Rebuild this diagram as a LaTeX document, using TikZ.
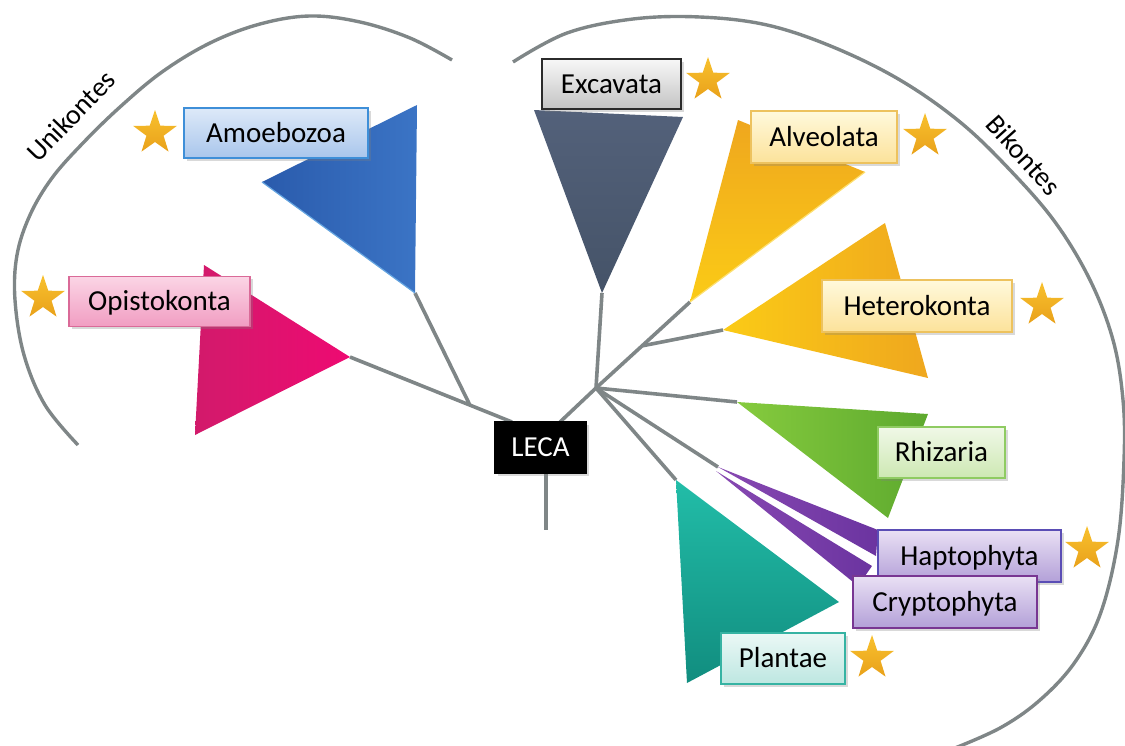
\documentclass[tikz,border=0pt]{standalone}
\usepackage{fontspec}
\setmainfont{Carlito}
\usetikzlibrary{shapes.geometric,shadows,calc}

\definecolor{lgray}{HTML}{7F8687}
\definecolor{starTop}{HTML}{F8C12E}
\definecolor{starBot}{HTML}{E9A11A}
% label colours
\definecolor{amTop}{HTML}{DDE9F8}\definecolor{amBot}{HTML}{A9C6EC}\definecolor{amDraw}{HTML}{3E8FD8}
\definecolor{opTop}{HTML}{FBD5E5}\definecolor{opBot}{HTML}{F19DC2}\definecolor{opDraw}{HTML}{DA6A98}
\definecolor{exTop}{HTML}{F7F7F7}\definecolor{exBot}{HTML}{C4C4C4}\definecolor{exDraw}{HTML}{2B2B2B}
\definecolor{yeTop}{HTML}{FFF9DC}\definecolor{yeBot}{HTML}{FCE29A}\definecolor{yeDraw}{HTML}{EDC25E}
\definecolor{rhTop}{HTML}{F0F8E7}\definecolor{rhBot}{HTML}{CDE8B3}\definecolor{rhDraw}{HTML}{8FCB62}
\definecolor{puTop}{HTML}{E9E0F4}\definecolor{puBot}{HTML}{B3A0D8}\definecolor{puDraw}{HTML}{5A4DB5}
\definecolor{plTop}{HTML}{EBF8F6}\definecolor{plBot}{HTML}{BDE7E1}\definecolor{plDraw}{HTML}{36B3A3}
% triangle colours
\definecolor{amA}{HTML}{2A5BAC}\definecolor{amB}{HTML}{3B74C5}
\definecolor{opA}{HTML}{D21A6B}\definecolor{opB}{HTML}{EE0A72}
\definecolor{exA}{HTML}{53617A}\definecolor{exB}{HTML}{455368}
\definecolor{yeA}{HTML}{EFA71E}\definecolor{yeB}{HTML}{FBCB16}
\definecolor{rhA}{HTML}{86CB3E}\definecolor{rhB}{HTML}{5DA92E}
\definecolor{puA}{HTML}{8849B2}\definecolor{puB}{HTML}{6B34A0}
\definecolor{plA}{HTML}{22BDA8}\definecolor{plB}{HTML}{118D7F}

\begin{document}
\begin{tikzpicture}[x=1pt,y=-1pt,
  branch/.style={draw=lgray, line width=3.6pt},
  bracket/.style={draw=lgray, line width=3.4pt},
  lbl/.style={draw, line width=1.4pt, inner sep=0pt, text height=18.5pt, text depth=0pt,
    minimum height=50pt, font=\fontsize{29}{34}\selectfont,
    drop shadow={shadow xshift=2.5pt, shadow yshift=-2.5pt, opacity=0.3}},
  starnode/.style={star, star points=5, star point ratio=2.55, minimum size=46pt,
    inner sep=0pt, top color=starTop, bottom color=starBot, draw=none},
  clade/.style={font=\fontsize{28}{32}\selectfont, inner sep=0pt},
  tri/.style={draw=none}
]
\useasboundingbox (0,0) rectangle (1125,745);

% ---------- brackets ----------
\draw[bracket] plot[smooth, tension=0.6] coordinates {(78,445) (45,405) (24,355) (15,300) (17,255) (30,215) (52,178) (83,143) (120,107) (162,72) (210,43) (260,24) (310,16) (360,22) (410,38) (452,60)};
\draw[bracket] plot[smooth, tension=0.6] coordinates {(513,62) (567,33) (633,19) (700,17) (767,25) (833,47) (900,80) (960,122) (1010,170) (1055,222) (1090,280) (1113,340) (1123,400) (1124,460) (1118,540) (1101,612) (1075,662) (1040,700) (1000,728) (950,750)};

\node[clade, rotate=46] (uni) at (71,116) {Unikontes};
\node[clade, rotate=-48] (bik) at (1024,155) {Bikontes};

% ---------- coordinates ----------
\coordinate (A1) at (417,105); \coordinate (A2) at (262,182); \coordinate (A3) at (415,293);
\coordinate (O1) at (204,265); \coordinate (O2) at (350,357); \coordinate (O3) at (195,435);
\coordinate (E1) at (534,110); \coordinate (E2) at (683,117); \coordinate (E3) at (602,293);
\coordinate (V1) at (738,120); \coordinate (V2) at (865,172); \coordinate (V3) at (690,302);
\coordinate (H1) at (885,223); \coordinate (H2) at (928,378); \coordinate (H3) at (723,330);
\coordinate (R1) at (737,402); \coordinate (R2) at (928,414); \coordinate (R3) at (888,518);
\coordinate (P1) at (718,467); \coordinate (P2) at (878,530); \coordinate (P3) at (876,556);
\coordinate (C1) at (716,471); \coordinate (C2) at (872,566); \coordinate (C3) at (858,586);
\coordinate (L1) at (676,480); \coordinate (L2) at (839,602); \coordinate (L3) at (687,683);

\coordinate (J) at (596,388);
\coordinate (lecaL) at (512,422);
\coordinate (lecaR) at (560,422);
\coordinate (stemT) at (546,472);
\coordinate (stemB) at (546,530);
\coordinate (JL) at ($(O2)!0.74!(lecaL)$);
\coordinate (JH) at ($(J)!0.49!(V3)$);

% ---------- branches ----------
\draw[branch] (O2) -- (lecaL);
\draw[branch] (A3) -- (JL);
\draw[branch] (lecaR) -- (J);
\draw[branch] (stemT) -- (stemB);
\draw[branch] (J) -- (E3);
\draw[branch] (J) -- (JH) -- (V3);
\draw[branch] (JH) -- (H3);
\draw[branch] (J) -- (R1);
\draw[branch] (J) -- (P1);
\draw[branch] (J) -- (L1);

% ---------- triangles ----------
\path[tri, left color=amA, right color=amB] (A1) -- (A2) -- (A3) -- cycle;
\draw[line width=1.2pt, draw=amDraw!80!white] (A2) -- (A3);
\path[tri, left color=opA, right color=opB] (O1) -- (O2) -- (O3) -- cycle;
\path[tri, top color=exA, bottom color=exB] (E1) -- (E2) -- (E3) -- cycle;
\path[tri, top color=yeA, bottom color=yeB] (V1) -- (V2) -- (V3) -- cycle;
\draw[line width=1.2pt, draw=yeB!60!white] (V2) -- (V3);
\path[tri, left color=yeB, right color=yeA] (H1) -- (H2) -- (H3) -- cycle;
\path[tri, left color=rhA, right color=rhB] (R1) -- (R2) -- (R3) -- cycle;
\path[tri, left color=puA, right color=puB] (P1) -- (P2) -- (P3) -- cycle;
\path[tri, left color=puA, right color=puB] (C1) -- (C2) -- (C3) -- cycle;
\path[tri, top color=plA, bottom color=plB] (L1) -- (L2) -- (L3) -- cycle;

% ---------- labels ----------
\node[lbl, draw=amDraw, top color=amTop, bottom color=amBot, minimum width=184pt] (amoe) at (276,133) {Amoebozoa};
\node[lbl, draw=opDraw, top color=opTop, bottom color=opBot, minimum width=181pt] (opis) at (159.5,301.5) {Opistokonta};
\node[lbl, draw=exDraw, top color=exTop, bottom color=exBot, minimum width=139pt] (exca) at (611.5,84) {Excavata};
\node[lbl, draw=yeDraw, top color=yeTop, bottom color=yeBot, minimum width=146pt, minimum height=52pt] (alve) at (824,137) {Alveolata};
\node[lbl, draw=yeDraw, top color=yeTop, bottom color=yeBot, minimum width=190pt, minimum height=52pt] (hete) at (917,306) {Heterokonta};
\node[lbl, draw=rhDraw, top color=rhTop, bottom color=rhBot, minimum width=127pt, minimum height=51pt] (rhiz) at (941.5,452.5) {Rhizaria};
\node[lbl, draw=puDraw, top color=puTop, bottom color=puBot, minimum width=183pt, minimum height=52pt] (hapt) at (969.5,556) {Haptophyta};
\node[lbl, draw=puDraw!70!purple, top color=puTop, bottom color=puBot, minimum width=184pt, minimum height=52pt] (cryp) at (945,602) {Cryptophyta};
\node[lbl, draw=plDraw, top color=plTop, bottom color=plBot, minimum width=124pt, minimum height=51pt] (plan) at (783,658.5) {Plantae};
\node[lbl, draw=black, fill=black, text=white, minimum width=91pt, minimum height=51pt] (leca) at (540.5,447.5) {LECA};

% ---------- stars ----------
\node[starnode] (s1) at (155,133) {};
\node[starnode] (s2) at (43,298) {};
\node[starnode] (s3) at (708,80) {};
\node[starnode] (s4) at (925,136) {};
\node[starnode] (s5) at (1042,305) {};
\node[starnode] (s6) at (1087,549) {};
\node[starnode] (s7) at (872,658) {};
\end{tikzpicture}
\end{document}
